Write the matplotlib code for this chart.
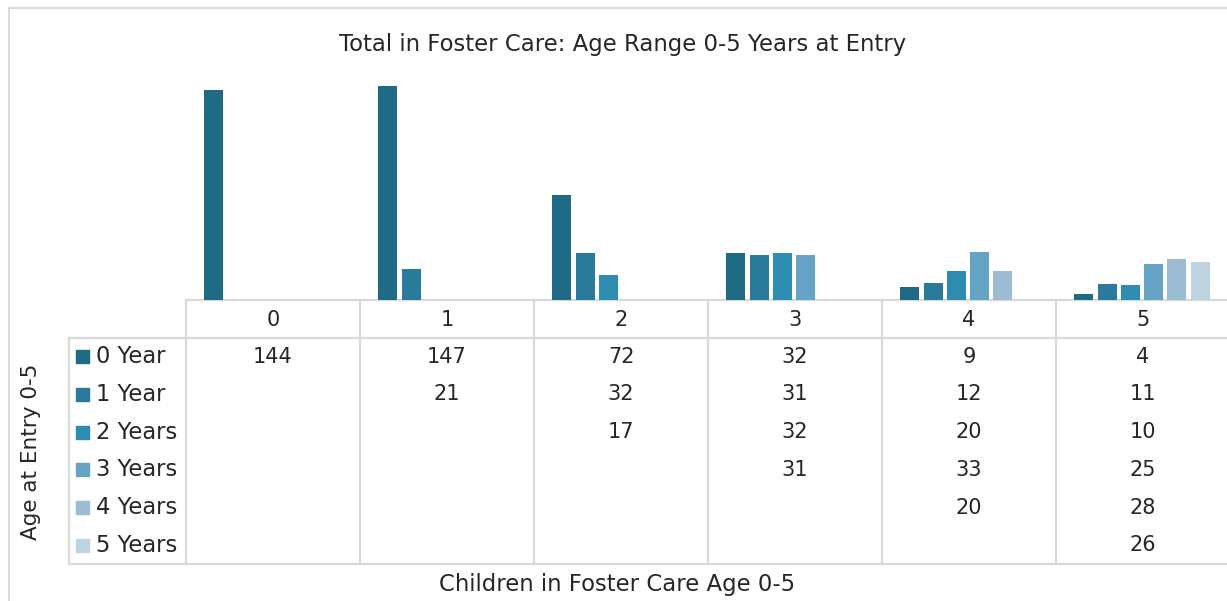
import numpy as np
import matplotlib
matplotlib.use("Agg")
import matplotlib.pyplot as plt
from matplotlib.transforms import blended_transform_factory
from matplotlib.patches import Rectangle

plt.rcParams['font.family'] = ['DejaVu Sans']

categories = ["0", "1", "2", "3", "4", "5"]
series_names = ["0 Year", "1 Year", "2 Years", "3 Years", "4 Years", "5 Years"]
year0 = [144, 147, 72, 32, 9, 4]
year1 = [None, 21, 32, 31, 12, 11]
year2 = [None, None, 17, 32, 20, 10]
year3 = [None, None, None, 31, 33, 25]
year4 = [None, None, None, None, 20, 28]
year5 = [None, None, None, None, None, 26]
series = [year0, year1, year2, year3, year4, year5]
colors = ["#1F6B85", "#2A7B9B", "#2E8CB0", "#65A4C4", "#9BBCD3", "#BDD3E0"]

title = "Total in Foster Care: Age Range 0-5 Years at Entry"
xlabel = "Children in Foster Care Age 0-5"
ylabel = "Age at Entry 0-5"

W, H = 1227, 601
fig = plt.figure(figsize=(W / 100, H / 100), dpi=100)
grid_c = "#D9D9D9"
text_c = "#262626"

def fx(px):
    return px / W

def fy(py):
    return 1 - py / H

# outer chart border
fig.patches.append(Rectangle((fx(9), fy(610)), fx(1230) - fx(9), fy(8) - fy(610),
                             transform=fig.transFigure, fill=False, edgecolor=grid_c, lw=1.4))

# bar axes
left_px, right_px = 186, 1230
top_px, base_px = 67, 300
ax = fig.add_axes([fx(left_px), fy(base_px), fx(right_px) - fx(left_px), fy(top_px) - fy(base_px)])
ax.set_xlim(-0.5, 5.5)
ax.set_ylim(0, 160)
ax.axis("off")

ncat = len(categories)
step = 23.3 / 174
width = 19 / 174
x = np.arange(ncat)
for j, (vals, col) in enumerate(zip(series, colors)):
    v = np.array([np.nan if a is None else a for a in vals], dtype=float)
    ax.bar(x + (j - 2.5) * step - 0.006, v, width=width, color=col, zorder=2)

# table overlay in pixel coords
ov = fig.add_axes([0, 0, 1, 1], zorder=-1)
ov.set_xlim(0, W)
ov.set_ylim(H, 0)
ov.axis("off")

tr = blended_transform_factory(ax.transData, ov.transData)

header_top = 300
header_bot = 338
table_bot = 564
legend_left = 69
row_h = (table_bot - header_bot) / 6

# horizontal lines
ov.plot([left_px, right_px], [header_top, header_top], color=grid_c, lw=1.6)
ov.plot([legend_left, right_px], [header_bot, header_bot], color=grid_c, lw=1.6)
ov.plot([legend_left, right_px], [table_bot, table_bot], color=grid_c, lw=1.6)
ov.plot([legend_left, legend_left], [header_bot, table_bot], color=grid_c, lw=1.6)
# vertical lines at category boundaries
for b in np.arange(ncat + 1) - 0.5:
    ov.plot([b, b], [header_top, table_bot], color=grid_c, lw=1.6, transform=tr)

fs = 15
for i, c in enumerate(categories):
    ov.text(i, (header_top + header_bot) / 2 + 1, c, transform=tr, ha="center", va="center",
            fontsize=fs, color=text_c)

for j, (name, vals, col) in enumerate(zip(series_names, series, colors)):
    yc = header_bot + row_h * (j + 0.5)
    ov.add_patch(Rectangle((76, yc - 6.5), 13, 13, color=col))
    ov.text(96, yc, name, ha="left", va="center", fontsize=16.3, color=text_c)
    for i, v in enumerate(vals):
        if v is not None:
            ov.text(i, yc, str(v), transform=tr, ha="center", va="center", fontsize=fs, color=text_c)

fig.text(fx(623), fy(44), title, ha="center", va="center", fontsize=16.4, color=text_c)
fig.text(fx(617), fy(585), xlabel, ha="center", va="center", fontsize=16.4, color=text_c)
fig.text(fx(31), fy(452), ylabel, ha="center", va="center", rotation=90, fontsize=15.5, color=text_c)

fig.savefig("out.png", dpi=100)
